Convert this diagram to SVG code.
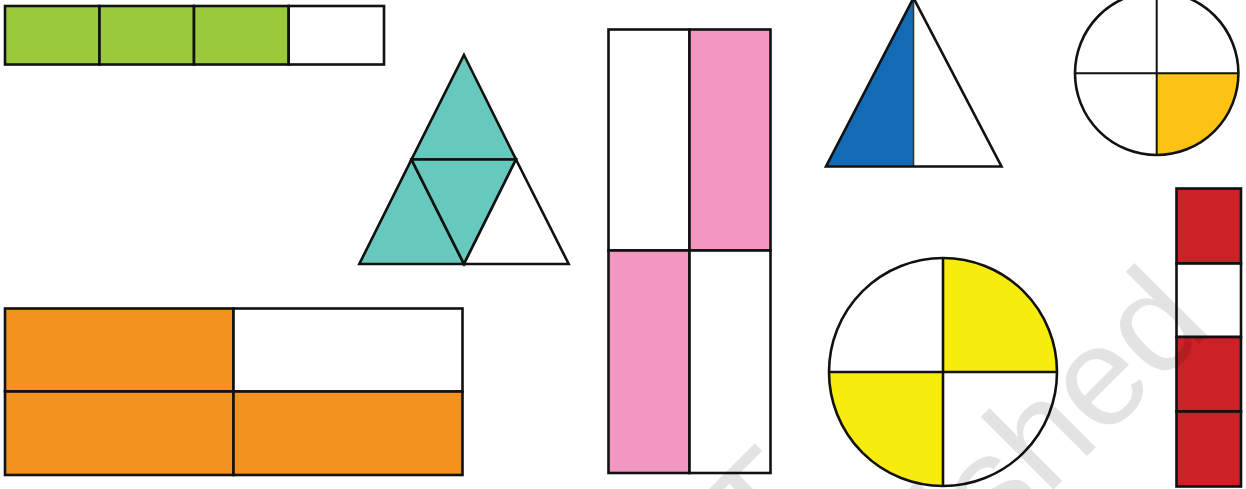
<svg xmlns="http://www.w3.org/2000/svg" width="1246" height="489" viewBox="0 0 1246 489">
  <style>
    .s { stroke: #111; stroke-width: 2.6; stroke-linejoin: miter; }
    .w { fill: #fff; }
    .green { fill: #9ACA3C; }
    .teal { fill: #67C8BD; }
    .pink { fill: #F297C0; }
    .orange { fill: #F4921F; }
    .blue { fill: #136BB5; }
    .gold { fill: #FDC314; }
    .yellow { fill: #F7EC0E; }
    .red { fill: #CE2027; }
    .wm { font-family: "Liberation Sans", Arial, sans-serif; font-size: 142px; fill: #000; fill-opacity: 0.11; }
  </style>
  <rect width="1246" height="489" fill="#fff"/>

  <g id="green-bar">
    <rect class="s green" x="5" y="6" width="94.5" height="58.5"/>
    <rect class="s green" x="99.5" y="6" width="94.5" height="58.5"/>
    <rect class="s green" x="194" y="6" width="94.7" height="58.5"/>
    <rect class="s w" x="288.7" y="6" width="95.3" height="58.5"/>
  </g>

  <g id="teal-triangle">
    <polygon class="s teal" points="464,55 516,159.5 411.5,159.5"/>
    <polygon class="s teal" points="411.5,159.5 464,264 359.3,264"/>
    <polygon class="s teal" points="411.5,159.5 516,159.5 464,264"/>
    <polygon class="s w" points="516,159.5 568.7,264 464,264"/>
  </g>

  <g id="pink-rect">
    <rect class="s w" x="608.5" y="29.5" width="81" height="221"/>
    <rect class="s pink" x="689.5" y="29.5" width="81" height="221"/>
    <rect class="s pink" x="608.5" y="250.5" width="81" height="222.5"/>
    <rect class="s w" x="689.5" y="250.5" width="81" height="222.5"/>
  </g>

  <g id="orange-rect">
    <rect class="s orange" x="5" y="308.5" width="228.5" height="83"/>
    <rect class="s w" x="233.5" y="308.5" width="229" height="83"/>
    <rect class="s orange" x="5" y="391.5" width="228.5" height="83.5"/>
    <rect class="s orange" x="233.5" y="391.5" width="229" height="83.5"/>
  </g>

  <g id="blue-triangle">
    <polygon class="blue" points="913.5,-2 913.5,166.5 826,166.5"/>
    <polygon class="w" points="913.5,-2 1001.5,166.5 913.5,166.5"/>
    <line x1="913.5" y1="-2" x2="913.5" y2="166.5" stroke="#333" stroke-width="1.6"/>
    <polygon class="s" fill="none" points="913.5,-2 1001.5,166.5 826,166.5"/>
  </g>

  <g id="small-circle">
    <circle cx="1156.7" cy="73.3" r="81.7" fill="#fff"/>
    <path class="gold" d="M1156.7,73.3 H1238.4 A81.7,81.7 0 0 1 1156.7,155 Z"/>
    <line x1="1156.7" y1="-9" x2="1156.7" y2="155" stroke="#111" stroke-width="2"/>
    <line x1="1075" y1="73.3" x2="1238.4" y2="73.3" stroke="#111" stroke-width="2"/>
    <circle class="s" cx="1156.7" cy="73.3" r="81.7" fill="none"/>
  </g>

  <g id="big-circle">
    <circle cx="943" cy="372" r="114" fill="#fff"/>
    <path class="yellow" d="M943,372 V258 A114,114 0 0 1 1057,372 Z"/>
    <path class="yellow" d="M943,372 H829 A114,114 0 0 0 943,486 Z"/>
    <line class="s" x1="943" y1="258" x2="943" y2="486"/>
    <line class="s" x1="829" y1="372" x2="1057" y2="372"/>
    <circle class="s" cx="943" cy="372" r="114" fill="none"/>
  </g>

  <g id="red-bar">
    <rect class="s red" x="1176.5" y="188.5" width="64.5" height="75"/>
    <rect class="s w" x="1176.5" y="263.5" width="64.5" height="73.5"/>
    <rect class="s red" x="1176.5" y="337" width="64.5" height="74.5"/>
    <rect class="s red" x="1176.5" y="411.5" width="64.5" height="75"/>
  </g>

  <g id="watermark">
    <text class="wm" text-anchor="end" transform="translate(826,510) rotate(-45)">© NCERT</text>
    <text class="wm" text-anchor="end" transform="translate(1214,329) rotate(-45)">not to be republished</text>
  </g>
</svg>
